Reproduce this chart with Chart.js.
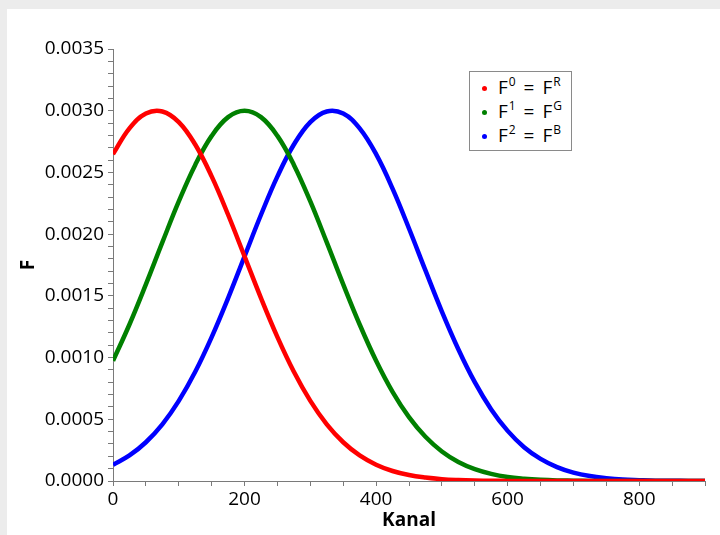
<!DOCTYPE html>
<html><head><meta charset="utf-8">
<script src="https://cdn.jsdelivr.net/npm/chart.js@4"></script>
<style>
html,body{margin:0;padding:0;background:#ececec;width:720px;height:535px;overflow:hidden;}
#panel{position:absolute;left:7px;top:9px;width:713px;height:526px;background:#fff;}
#c{position:absolute;left:0;top:0;}
#legend{position:absolute;left:469px;top:71px;width:103px;height:80px;border:1px solid #8a8a8a;background:#fff;
 font-family:'Open Sans',sans-serif;font-size:19px;color:#000;box-sizing:border-box;padding-top:3px;}
#legend div{height:24px;line-height:24px;white-space:nowrap;position:relative;padding-left:28px;word-spacing:3px;}
#legend span.dot{position:absolute;left:12px;top:11px;width:5px;height:5px;border-radius:50%;}
#legend sup{font-size:12px;vertical-align:8px;line-height:0;margin-left:1px;}
</style></head>
<body>
<div id="panel"></div>
<canvas id="c" width="720" height="535"></canvas>
<div id="legend"></div>
<script>
// Channel positions (x) and F values
const kanal = [0,25,50,75,100,125,150,175,200,225,250,275,300,325,350,375,400,425,450,475,500,525,550,575,600,625,650,675,700,725,750,775,800,825,850,875,900];
const fR = [0.002648,0.002857,0.002977,0.002994,0.002908,0.002726,0.002468,0.002157,0.001820,0.001482,0.001166,0.000885,0.000649,0.000459,0.000314,0.000207,0.000132,0.000081,0.000048,0.000028,0.000015,0.000008,0.000004,0.000002,0.000001,0,0,0,0,0,0,0,0,0,0,0,0];
const fG = [0.000974,0.001268,0.001593,0.001933,0.002265,0.002561,0.002796,0.002948,0.003000,0.002948,0.002796,0.002561,0.002265,0.001933,0.001593,0.001268,0.000974,0.000722,0.000517,0.000358,0.000239,0.000154,0.000096,0.000058,0.000033,0.000019,0.000010,0.000005,0.000003,0.000001,0,0,0,0,0,0,0];
const fB = [0.000132,0.000207,0.000314,0.000459,0.000649,0.000885,0.001166,0.001482,0.001820,0.002157,0.002468,0.002726,0.002908,0.002994,0.002977,0.002857,0.002648,0.002369,0.002046,0.001706,0.001373,0.001068,0.000801,0.000580,0.000406,0.000274,0.000179,0.000113,0.000068,0.000040,0.000023,0.000012,0.000007,0.000003,0.000002,0.000001,0];
const seriesLabels = [['0','R'],['1','G'],['2','B']];
const seriesColors = ['#ff0000','#008000','#0000ff'];
const seriesData = [fR,fG,fB];
const xTitle = 'Kanal';
const yTitle = 'F';

// HTML legend
const lg = document.getElementById('legend');
seriesLabels.forEach((l,i)=>{
  const d = document.createElement('div');
  d.innerHTML = '<span class="dot" style="background:'+seriesColors[i]+'"></span>F<sup>'+l[0]+'</sup> = F<sup>'+l[1]+'</sup>';
  lg.appendChild(d);
});

const tickFont = {family:'Open Sans', size:19};
const titleFont = {family:'Open Sans', size:19, weight:'bold'};
const axisColor = '#7a7a7a';

new Chart(document.getElementById('c'), {
  type:'line',
  data:{
    datasets: seriesData.map((arr,i)=>({
      label: 'F'+seriesLabels[i][0],
      data: kanal.map((x,j)=>({x:x,y:arr[j]})),
      borderColor: seriesColors[i],
      backgroundColor: seriesColors[i],
      borderWidth: 4.5,
      pointRadius: 0,
      fill: false,
      tension: 0.4
    }))
  },
  options:{
    responsive:false,
    animation:false,
    layout:{padding:{left:0,top:49,right:15,bottom:0}},
    plugins:{legend:{display:false},tooltip:{enabled:false}},
    scales:{
      x:{
        type:'linear', position:'bottom', min:0, max:900,
        afterFit:(s)=>{s.height=54;},
        ticks:{stepSize:50, autoSkip:false, maxRotation:0, font:tickFont, color:'#000', padding:2,
          callback:(v)=>{const n=Math.round(v); return n%200===0 ? String(n) : '';}},
        grid:{drawOnChartArea:false, tickLength:5, color:axisColor},
        border:{color:axisColor, width:1},
        title:{display:true, text:xTitle, font:titleFont, color:'#000', padding:{top:0,bottom:3}}
      },
      y:{
        type:'linear', position:'left', min:0, max:0.0035,
        afterFit:(s)=>{s.width=113;},
        ticks:{stepSize:0.0001, autoSkip:false, font:tickFont, color:'#000', padding:4,
          callback:(v)=>{const n=Math.round(v*10000); return n%5===0 ? (n/10000).toFixed(4) : '';}},
        grid:{drawOnChartArea:false, tickLength:5, color:axisColor},
        border:{color:axisColor, width:1},
        title:{display:true, text:yTitle, font:titleFont, color:'#000', padding:{top:17,bottom:0}}
      }
    }
  }
});
</script>
</body></html>
